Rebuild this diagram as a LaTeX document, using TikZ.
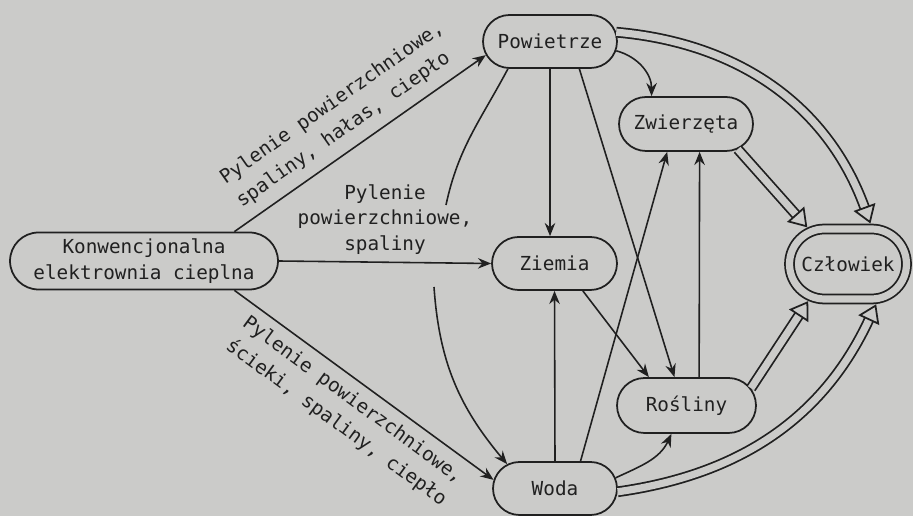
\documentclass[tikz,border=0pt]{standalone}
\usepackage{fontspec}
\setmonofont{DejaVu Sans Mono}
\usetikzlibrary{arrows.meta,shapes.misc}
\definecolor{bgpaper}{RGB}{203,203,201}
\definecolor{ink}{RGB}{32,32,32}
\tikzset{
  box/.style={rounded rectangle, draw=ink, line width=1pt, inner sep=0pt,
    font=\ttfamily\fontsize{11}{14.5}\selectfont, text=ink, align=center},
  flow/.style={draw=ink, line width=0.9pt, -{Stealth[length=7.5pt,width=6pt,inset=2.5pt]}},
  bow/.style={draw=ink, line width=0.9pt},
  dbl/.style={draw=ink, line width=1pt, double=bgpaper, double distance=4.1pt,
    -{Triangle[open,line width=1pt,length=10pt,width=13pt,fill=bgpaper]}},
  lbl/.style={font=\ttfamily\fontsize{11}{14.5}\selectfont, text=ink, align=left, inner sep=2pt},
  slbl/.style={lbl, font=\ttfamily\fontsize{11}{16}\selectfont, sloped}
}
\begin{document}
\begin{tikzpicture}[x=0.02cm,y=0.02cm]
  \fill[bgpaper] (0,0) rectangle (913,-516);
  \useasboundingbox (0,0) rectangle (913,-516);
  % nodes
  \node[box, minimum width=5.36cm, minimum height=1.14cm] (konw) at (144,-261) {Konwencjonalna\\elektrownia cieplna};
  \node[box, minimum width=2.68cm, minimum height=1.06cm] (pow) at (550,-41.5) {Powietrze};
  \node[box, minimum width=2.68cm, minimum height=1.08cm] (zwi) at (686,-124) {Zwierzęta};
  \node[box, minimum width=2.5cm, minimum height=1.06cm] (zie) at (554.5,-263.5) {Ziemia};
  \node[box, minimum width=2.78cm, minimum height=1.1cm] (ros) at (686.5,-405.5) {Rośliny};
  \node[box, minimum width=2.48cm, minimum height=1.06cm] (woda) at (555,-488.5) {Woda};
  \node[box, double=bgpaper, double distance=4.1pt, outer sep=0.11cm,
    minimum width=2.34cm, minimum height=1.4cm] (czl) at (848,-264) {Człowiek};
  % from the power plant
  \draw[flow] (konw.18) -- node[slbl, above=4pt] {Pylenie powierzchniowe,\\spaliny, hałas, ciepło} (pow.192);
  \draw[flow] (konw.east) -- node[lbl, above=2pt, align=center] {Pylenie\\powierzchniowe,\\spaliny} (zie.west);
  \draw[flow] (konw.-18) -- node[slbl, below=3pt] {Pylenie powierzchniowe,\\ścieki, spaliny, ciepło} (woda.172);
  % air to water, broken by the label
  \coordinate (bowtop) at (446,-205);
  \coordinate (bowbot) at (434,-287);
  \draw[bow] (pow.213) to[out=-118,in=78] (bowtop);
  \draw[flow] (bowbot) to[out=-86,in=130] (woda.153);
  % single arrows
  \draw[flow] (pow.south) -- (pow.south |- zie.north);
  \draw[flow] (pow.-43) -- (ros.113);
  \draw[flow] (pow.-8) to[out=-15,in=90] (zwi.141);
  \draw[flow] (woda.north) -- (zie.south);
  \draw[flow] (woda.47) -- (zwi.236);
  \draw[flow] (zie.-44) -- (ros.143);
  \draw[flow] (ros.66) -- (zwi.-64);
  \draw[flow] (woda.10) to[out=25,in=-115] (ros.242);
  % to man
  \draw[dbl] (pow.8) to[out=-5,in=110] (czl.61);
  \draw[dbl] (zwi.-26) -- (czl.138);
  \draw[dbl] (ros.15) -- (czl.223);
  \draw[dbl] (woda.-3) to[out=8,in=-115] (czl.-55);
\end{tikzpicture}
\end{document}
